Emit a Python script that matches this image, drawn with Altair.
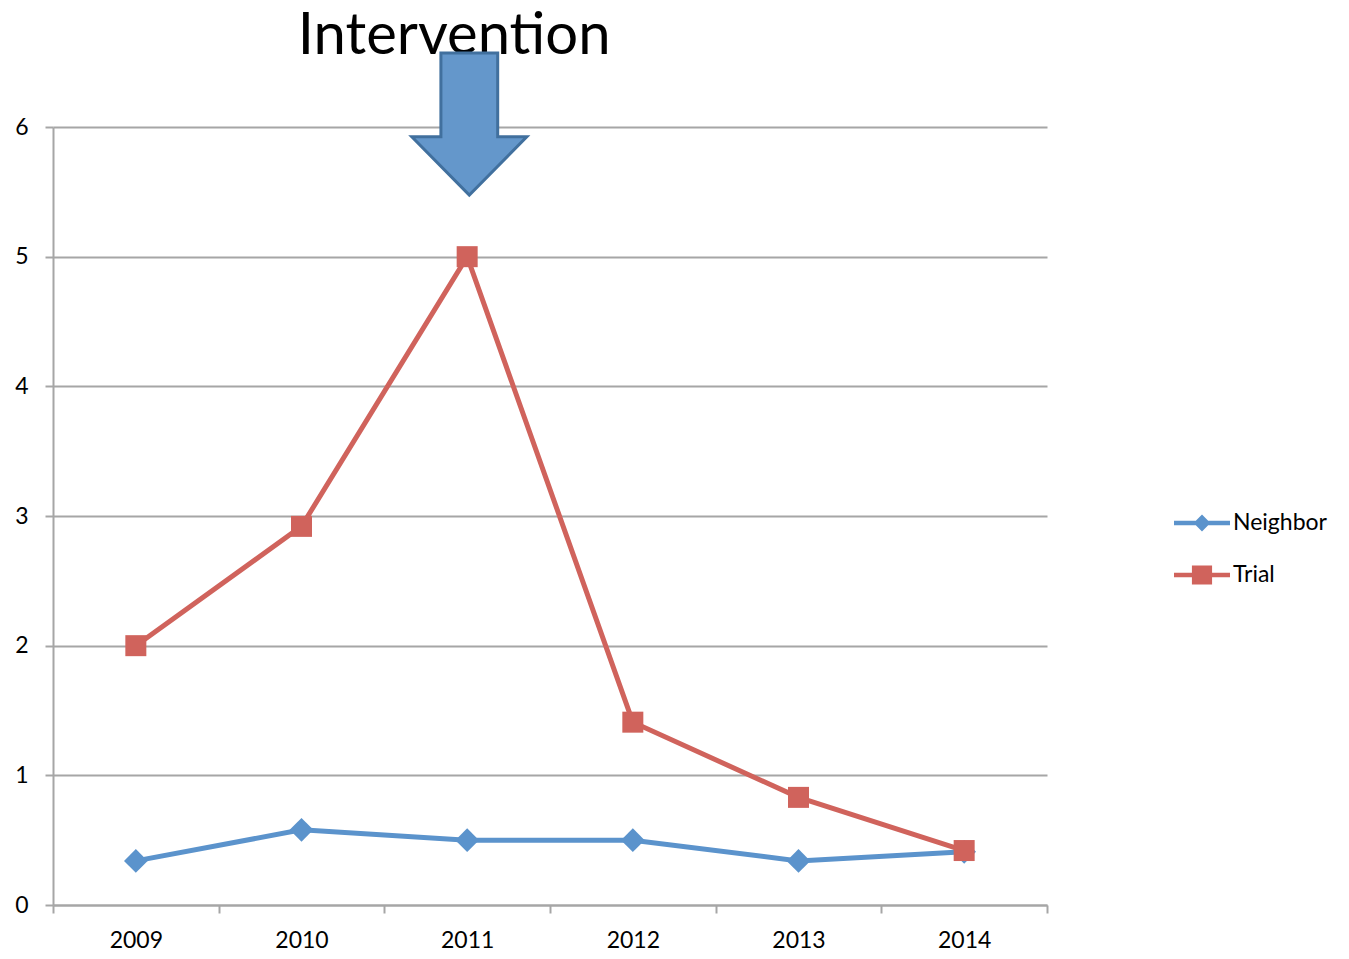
import altair as alt
import pandas as pd

years = ["2009", "2010", "2011", "2012", "2013", "2014"]
neighbor = [0.34, 0.58, 0.50, 0.50, 0.34, 0.41]
trial = [2.0, 2.92, 5.0, 1.41, 0.83, 0.42]
series_names = ["Neighbor", "Trial"]
colors = ["#5B93CC", "#D0635C"]
y_ticks = [0, 1, 2, 3, 4, 5, 6]

annot_label = ["Intervention"]
annot_year = ["2011"]
annot_text_y = [6.565]
annot_arrow_y = [6.023]

df = pd.DataFrame({
    "year": years * 2,
    "value": neighbor + trial,
    "series": [series_names[0]] * len(years) + [series_names[1]] * len(years),
})
annot = pd.DataFrame({"year": annot_year, "ty": annot_text_y, "ay": annot_arrow_y, "label": annot_label})

FONT = "Lato"
GRAY = "#A6A6A6"

arrow_path = "M-0.37,-1L0.43,-1L0.43,0.18L0.84,0.18L0.03,1L-0.78,0.18L-0.37,0.18Z"
leg_neighbor = ("M-1,-0.08L1,-0.08L1,0.08L-1,0.08Z"
                "M0,-0.30L0.30,0L0,0.30L-0.30,0Z")
leg_trial = ("M-1,-0.08L1,-0.08L1,0.08L-1,0.08Z"
             "M-0.36,-0.34L0.36,-0.34L0.36,0.34L-0.36,0.34Z")

x_enc = alt.X(
    "year:O",
    scale=alt.Scale(type="band", domain=years, paddingInner=0, paddingOuter=0),
    axis=alt.Axis(
        title=None, labelAngle=0, tickBand="extent", grid=False,
        domainColor=GRAY, domainWidth=2, tickColor=GRAY, tickWidth=2, tickSize=8,
        labelFont=FONT, labelFontSize=23, labelColor="black", labelPadding=16,
    ),
)
y_scale = alt.Scale(domain=[0, 6], nice=False, zero=True)
y_enc = alt.Y(
    "value:Q",
    scale=y_scale,
    axis=alt.Axis(
        title=None, values=y_ticks, format="d", grid=True, gridColor=GRAY, gridWidth=2,
        domainColor=GRAY, domainWidth=2, tickColor=GRAY, tickWidth=2, tickSize=8,
        labelFont=FONT, labelFontSize=23, labelColor="black", labelPadding=17,
    ),
)
color_scale = alt.Scale(domain=series_names, range=colors)

legend_def = alt.Legend(
    title=None, orient="none", legendX=1121, legendY=368,
    symbolSize=3136, symbolStrokeWidth=0, symbolOpacity=1,
    labelFont=FONT, labelFontSize=23, labelColor="black", labelOffset=3,
    rowPadding=12, padding=0,
)
color_enc = alt.Color("series:N", scale=color_scale, legend=legend_def)

base = alt.Chart(df)

lines = base.mark_line(strokeWidth=5).encode(x=x_enc, y=y_enc, color=color_enc)
diamonds = base.transform_filter(alt.datum.series == series_names[0]).mark_point(
    shape="diamond", filled=True, size=560, opacity=1
).encode(x="year:O", y="value:Q", color=color_enc)
squares = base.transform_filter(alt.datum.series == series_names[1]).mark_point(
    shape="square", filled=True, size=441, opacity=1
).encode(x="year:O", y="value:Q", color=color_enc)

legend_layer = base.mark_point(filled=True, opacity=0, size=10).encode(
    x="year:O", y="value:Q",
    color=color_enc,
    shape=alt.Shape("series:N", scale=alt.Scale(domain=series_names, range=[leg_neighbor, leg_trial]),
                    legend=legend_def),
)

title_text = alt.Chart(annot).mark_text(
    font=FONT, fontSize=58, color="black", align="center", baseline="alphabetic", dx=-13
).encode(x="year:O", y=alt.Y("ty:Q", scale=y_scale), text="label:N")

arrow = alt.Chart(annot).mark_point(
    shape=arrow_path, size=20164, filled=True, color="#6497CB", stroke="#41709E",
    strokeWidth=3, opacity=1,
).encode(x="year:O", y=alt.Y("ay:Q", scale=y_scale))

chart = alt.layer(lines, diamonds, squares, legend_layer, title_text, arrow).properties(
    width=994, height=778,
    background="white",
    autosize=alt.AutoSizeParams(type="none"),
    padding={"left": 53, "top": 127, "right": 302, "bottom": 54},
).configure_view(stroke=None)

chart.save("out.html", embed_options={"renderer": "svg", "actions": False})
